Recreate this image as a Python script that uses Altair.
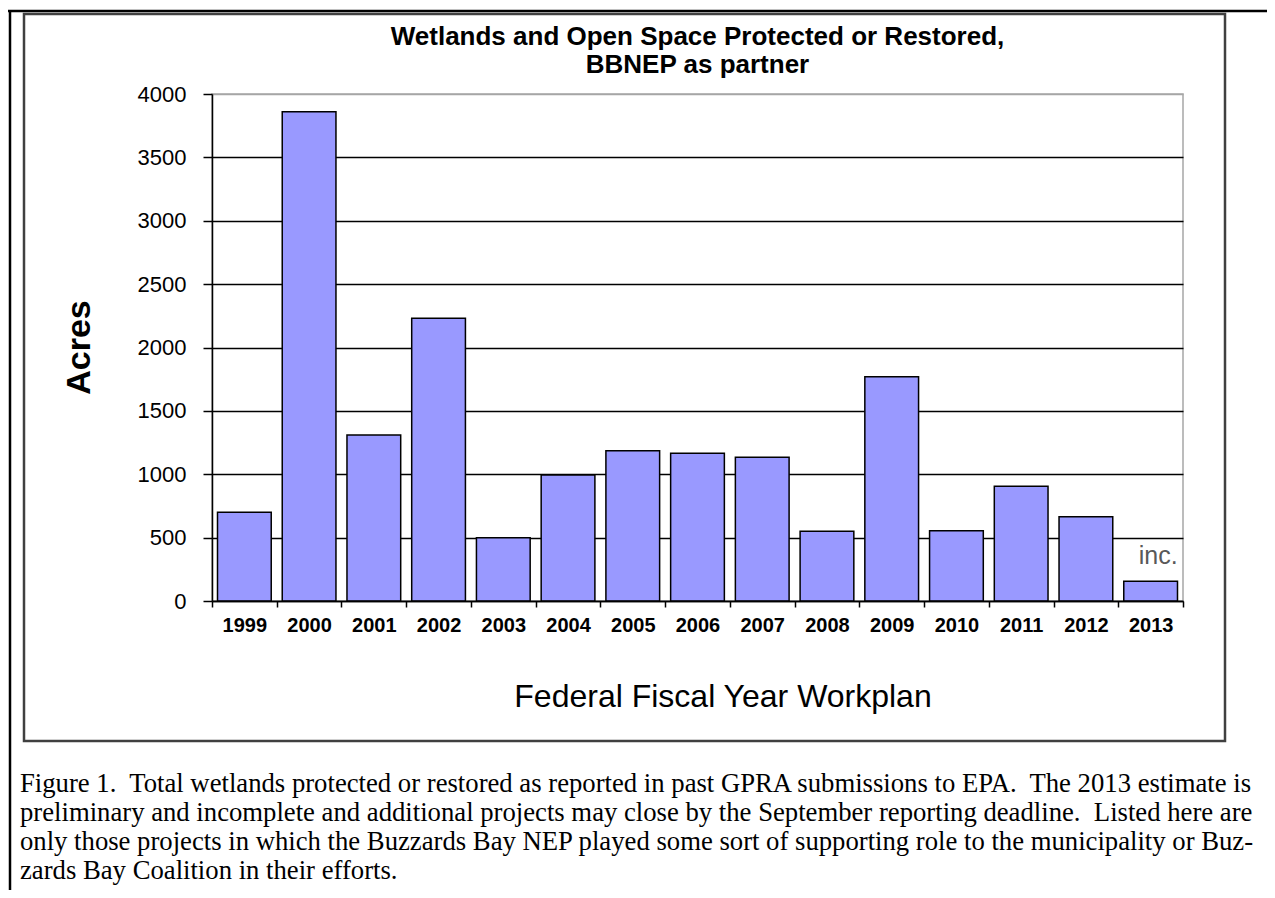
import altair as alt
import pandas as pd

# ---------------- data ----------------
years = ["1999", "2000", "2001", "2002", "2003", "2004", "2005", "2006",
         "2007", "2008", "2009", "2010", "2011", "2012", "2013"]
acres = [700, 3860, 1310, 2230, 500, 995, 1185, 1165, 1135, 550, 1770,
         555, 905, 665, 155]
y_ticks = [0, 500, 1000, 1500, 2000, 2500, 3000, 3500, 4000]

title_lines = ["Wetlands and Open Space Protected or Restored,",
               "BBNEP as partner"]
y_title = "Acres"
x_title = "Federal Fiscal Year Workplan"
note_year = ["2013"]
note_text = ["inc."]
caption_lines = [
    "Figure 1.\u00a0 Total wetlands protected or restored as reported in past GPRA submissions to EPA.\u00a0 The 2013 estimate is",
    "preliminary and incomplete and additional projects may close by the September reporting deadline.\u00a0 Listed here are",
    "only those projects in which the Buzzards Bay NEP played some sort of supporting role to the municipality or Buz-",
    "zards Bay Coalition in their efforts.",
]

df = pd.DataFrame({"year": years, "acres": acres})
note_df = pd.DataFrame({"year": note_year, "acres": [acres[years.index(note_year[0])]],
                        "label": note_text})
one = pd.DataFrame({"k": [0]})

W, H = 971, 507
SANS = "Liberation Sans"
SERIF = "Liberation Serif"

x_enc = alt.X("year:N", sort=years,
              scale=alt.Scale(paddingInner=0, paddingOuter=0),
              axis=alt.Axis(title=None, labelAngle=0, labelFont=SANS,
                            labelFontWeight="bold", labelFontSize=20,
                            labelColor="black", tickBand="extent",
                            tickColor="black", tickSize=6, tickWidth=1.5,
                            domainColor="black", domainWidth=1.5,
                            labelPadding=8, grid=False, zindex=1))
y_enc = alt.Y("acres:Q",
              scale=alt.Scale(domain=[0, 4000], nice=False),
              axis=alt.Axis(values=y_ticks, format="d", title=None, labelFont=SANS,
                            labelFontSize=22, labelColor="black",
                            labelPadding=17, tickSize=9, tickColor="black",
                            tickWidth=1.5, domainColor="black", domainWidth=1.5,
                            gridColor=alt.condition("datum.value >= 4000",
                                                    alt.value("#a6a6a6"),
                                                    alt.value("black")),
                            gridWidth=1.5, zindex=0))

bars = alt.Chart(df).mark_bar(
    color="#9999FF", stroke="black", strokeWidth=1.5,
    width=alt.RelativeBandSize(0.83)
).encode(x=x_enc, y=y_enc)

note = alt.Chart(note_df).mark_text(
    align="right", baseline="bottom", dx=27, dy=-12,
    font=SANS, fontSize=25, color="#595959"
).encode(x=alt.X("year:N", sort=years), y="acres:Q", text="label:N")

# frame / decorations (pixel positions relative to plot origin)
box = alt.Chart(one).mark_rect(filled=False, stroke="#404040", strokeWidth=2.5).encode(
    x=alt.value(-188), x2=alt.value(1013), y=alt.value(-80), y2=alt.value(647))
top_line = alt.Chart(one).mark_rule(color="black", strokeWidth=2.5).encode(
    x=alt.value(-204), x2=alt.value(1060), y=alt.value(-83))
left_line = alt.Chart(one).mark_rule(color="black", strokeWidth=2.5).encode(
    x=alt.value(-202), y=alt.value(-83), y2=alt.value(800))

title = alt.Chart(one).mark_text(
    font=SANS, fontSize=26, fontWeight="bold", align="center",
    baseline="middle", lineHeight=28, color="black"
).encode(x=alt.value(W / 2), y=alt.value(-57), text=alt.value(title_lines))

ytitle = alt.Chart(one).mark_text(
    font=SANS, fontSize=34, fontWeight="bold", align="center",
    baseline="middle", angle=270, color="black"
).encode(x=alt.value(-132), y=alt.value(H / 2), text=alt.value(y_title))

xtitle = alt.Chart(one).mark_text(
    font=SANS, fontSize=32, align="center", baseline="middle", color="black"
).encode(x=alt.value(511), y=alt.value(603), text=alt.value(x_title))

caption = alt.Chart(one).mark_text(
    font=SERIF, fontSize=26.7, align="left", baseline="middle",
    lineHeight=29, color="black"
).encode(x=alt.value(-192), y=alt.value(690), text=alt.value(caption_lines))

chart = alt.layer(
    bars, note, box, top_line, left_line, title, ytitle, xtitle, caption
).properties(
    width=W, height=H,
    padding={"left": 204, "top": 86, "right": 84, "bottom": 289},
    autosize=alt.AutoSizeParams(type="none"),
    background="white"
).configure_view(stroke="#a6a6a6", strokeWidth=1.5)

chart.save("out.html", embed_options={"renderer": "svg", "actions": False})
